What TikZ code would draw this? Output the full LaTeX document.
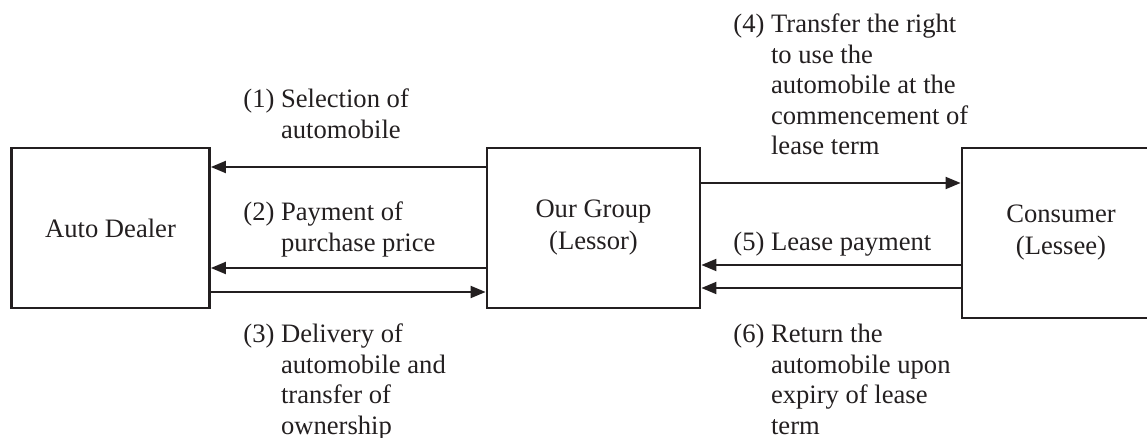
\documentclass[tikz,border=0pt]{standalone}
\usepackage{fontspec}
\setmainfont{Liberation Serif}
\usetikzlibrary{arrows.meta}

\definecolor{ink}{RGB}{35,31,32}

\tikzset{
  party/.style={draw=ink, text=ink, line width=1.4pt, inner sep=0pt, align=center,
    font=\fontsize{13.3}{16}\selectfont},
  flow/.style={draw=ink, line width=1pt, -{Triangle[length=7.5pt,width=6pt]}},
  note/.style={anchor=base west, inner sep=0pt, text=ink,
    font=\fontsize{13.3}{15.2}\selectfont}
}
\newcommand{\steplabel}[2]{\begin{tabular}[t]{@{}l@{ }l@{}}#1 & #2\end{tabular}}

\begin{document}
\begin{tikzpicture}[x=0.5pt, y=-0.5pt]
  \useasboundingbox (0,0) rectangle (1147,438);
  \clip (0,0) rectangle (1147,438);

  % parties
  \node[party, minimum width=99pt, minimum height=80pt] (dealer) at (110.5,228) {Auto Dealer};
  \node[party, minimum width=106.5pt, minimum height=80pt] (group) at (593.5,228) {Our Group\\(Lessor)};
  \node[party, minimum width=99pt, minimum height=85pt] (consumer) at (1061,233) {Consumer\\(Lessee)};

  % flows between dealer and lessor
  \draw[flow] (group.west |- 0,167) -- (dealer.east |- 0,167);
  \draw[flow] (group.west |- 0,268) -- (dealer.east |- 0,268);
  \draw[flow] (dealer.east |- 0,292) -- (group.west |- 0,292);

  % flows between lessor and consumer
  \draw[flow] (group.east |- 0,183) -- (consumer.west |- 0,183);
  \draw[flow] (consumer.west |- 0,265) -- (group.east |- 0,265);
  \draw[flow] (consumer.west |- 0,288) -- (group.east |- 0,288);

  % step labels
  \node[note] (l1) at (243,108) {\steplabel{(1)}{Selection of\\ & automobile}};
  \node[note] (l2) at (243,221) {\steplabel{(2)}{Payment of\\ & purchase price}};
  \node[note] (l3) at (243,343) {\steplabel{(3)}{Delivery of\\ & automobile and\\ & transfer of\\ & ownership}};
  \node[note] (l4) at (733,33) {\steplabel{(4)}{Transfer the right\\ & to use the\\ & automobile at the\\ & commencement of\\ & lease term}};
  \node[note] (l5) at (733,251) {\steplabel{(5)}{Lease payment}};
  \node[note] (l6) at (733,343) {\steplabel{(6)}{Return the\\ & automobile upon\\ & expiry of lease\\ & term}};
\end{tikzpicture}
\end{document}
